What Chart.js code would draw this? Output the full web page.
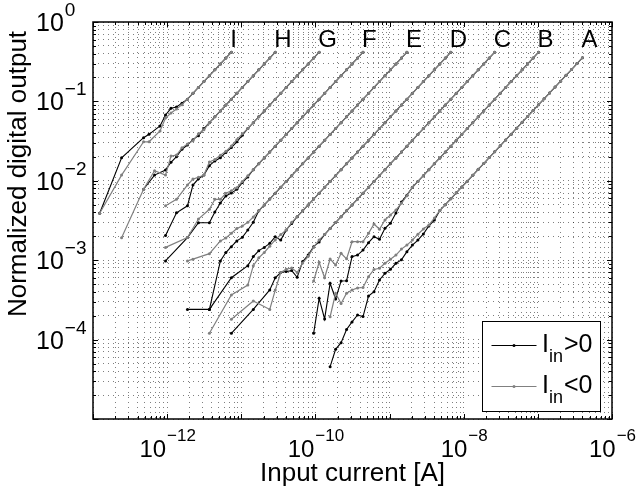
<!DOCTYPE html>
<html>
<head>
<meta charset="utf-8">
<script src="https://cdn.jsdelivr.net/npm/chart.js@4.4.0/dist/chart.umd.min.js"></script>
<style>
  html, body { margin: 0; padding: 0; background: #fff; }
  #plot { display: block; }
</style>
</head>
<body>
<canvas id="plot" width="638" height="491"></canvas>
<script>
// input current steps [A], shared by all ranges (2^(1/4) apart)
var current = [
  1.23e-13, 1.46e-13, 1.73e-13, 2.05e-13, 2.43e-13, 2.88e-13, 3.42e-13, 4.06e-13, 4.81e-13, 5.70e-13,
  6.76e-13, 8.02e-13, 9.51e-13, 1.127e-12, 1.337e-12, 1.585e-12, 1.879e-12, 2.228e-12, 2.642e-12, 3.133e-12,
  3.715e-12, 4.406e-12, 5.224e-12, 6.194e-12, 7.345e-12, 8.71e-12, 1.033e-11, 1.225e-11, 1.452e-11, 1.722e-11,
  2.042e-11, 2.421e-11, 2.871e-11, 3.404e-11, 4.036e-11, 4.786e-11, 5.675e-11, 6.73e-11, 7.98e-11, 9.462e-11,
  1.122e-10, 1.33e-10, 1.578e-10, 1.871e-10, 2.218e-10, 2.63e-10, 3.119e-10, 3.698e-10, 4.385e-10, 5.2e-10,
  6.166e-10, 7.311e-10, 8.67e-10, 1.028e-9, 1.219e-9, 1.445e-9, 1.714e-9, 2.032e-9, 2.41e-9, 2.858e-9,
  3.388e-9, 4.018e-9, 4.764e-9, 5.649e-9, 6.699e-9, 7.943e-9, 9.419e-9, 1.117e-8, 1.324e-8, 1.57e-8,
  1.862e-8, 2.208e-8, 2.618e-8, 3.105e-8, 3.681e-8, 4.365e-8, 5.176e-8, 6.138e-8, 7.278e-8, 8.63e-8,
  1.023e-7, 1.213e-7, 1.439e-7, 1.706e-7, 2.023e-7, 2.399e-7, 2.844e-7, 3.373e-7, 4.0e-7
];

var rangeNames = ['I', 'H', 'G', 'F', 'E', 'D', 'C', 'B', 'A'];
// index into current[] of the first entry of each range's arrays
var firstStep = [0, 4, 12, 12, 16, 20, 24, 39, 42];

// normalized output, I_in > 0 and I_in < 0 (null = no reading)
var posI = [0.0039, null, null, null, 0.0195, null, null, null, 0.0349, 0.0385, null, 0.049, 0.0675, 0.0818, 0.085, 0.095,
  0.1067, 0.1265, 0.15, 0.178, 0.211, 0.25, 0.296, 0.352, 0.417];
var negI = [0.0039, null, null, null, 0.0118, null, null, null, 0.031, 0.031, null, 0.0424, 0.0618, 0.0714, 0.08, 0.091,
  0.1067, 0.1265, 0.15, 0.178, 0.211, 0.25, 0.296, 0.352, 0.417];

var posH = [null, null, null, null, 0.00782, null, 0.0118, null, 0.0137, 0.0171, 0.0201, 0.025, 0.0282, 0.033, 0.037,
  0.0455, 0.054, 0.064, 0.0759, 0.09, 0.1067, 0.1265, 0.15, 0.178, 0.211, 0.25, 0.296, 0.352, 0.417];
var negH = [0.00192, null, null, null, 0.00782, null, 0.0134, null, 0.0118, 0.0205, 0.0211, 0.026, 0.029, 0.032, 0.039,
  0.044, 0.054, 0.064, 0.0759, 0.09, 0.1067, 0.1265, 0.15, 0.178, 0.211, 0.25, 0.296, 0.352, 0.417];

var posG = [0.00205, null, 0.00395, null, 0.00484, 0.00885, 0.0106, 0.0118, 0.0155, 0.0178, 0.0195, 0.0228, 0.0262, 0.031, 0.0375,
  0.0455, 0.054, 0.064, 0.0759, 0.09, 0.1067, 0.1265, 0.15, 0.178, 0.211, 0.25, 0.296, 0.352, 0.417];
var negG = [0.00486, null, 0.00585, null, 0.00885, 0.0105, 0.0111, 0.0118, 0.0173, 0.0185, 0.021, 0.0235, 0.0275, 0.033, 0.039,
  0.0455, 0.054, 0.064, 0.0759, 0.09, 0.1067, 0.1265, 0.15, 0.178, 0.211, 0.25, 0.296, 0.352, 0.417];

var posF = [0.00098, null, null, null, 0.00193, null, 0.00296, null, 0.00296, 0.00405, 0.00525, 0.00644, 0.007, 0.0078, 0.0095, 0.0112,
  0.0138, 0.0164, 0.0194, 0.023, 0.0273, 0.0324, 0.0384, 0.0455, 0.054, 0.064, 0.0759, 0.09, 0.1067, 0.1265, 0.15, 0.178,
  0.211, 0.25, 0.296, 0.352, 0.417];
var negF = [0.00145, null, null, null, 0.00193, null, 0.0033, null, 0.00438, 0.00585, 0.00585, 0.00696, 0.0075, 0.0082, 0.0098, 0.0116,
  0.0138, 0.0164, 0.0194, 0.023, 0.0273, 0.0324, 0.0384, 0.0455, 0.054, 0.064, 0.0759, 0.09, 0.1067, 0.1265, 0.15, 0.178,
  0.211, 0.25, 0.296, 0.352, 0.417];

var posE = [0.00024, null, null, null, 0.00024, null, 0.00098, 0.00125, 0.00148, 0.00175, 0.00194, 0.0024, 0.003,
  0.00419, 0.00497, 0.00589, 0.00698, 0.00828, 0.00982, 0.0116, 0.0138, 0.0164, 0.0194, 0.023, 0.0273, 0.0324, 0.0384,
  0.0455, 0.054, 0.064, 0.0759, 0.09, 0.1067, 0.1265, 0.15, 0.178, 0.211, 0.25, 0.296, 0.352, 0.417];
var negE = [0.00098, 0.00103, null, null, 0.00121, null, 0.00175, 0.0019, 0.00218, 0.0025, 0.0027, 0.003, 0.0035,
  0.00419, 0.00497, 0.00589, 0.00698, 0.00828, 0.00982, 0.0116, 0.0138, 0.0164, 0.0194, 0.023, 0.0273, 0.0324, 0.0384,
  0.0455, 0.054, 0.064, 0.0759, 0.09, 0.1067, 0.1265, 0.15, 0.178, 0.211, 0.25, 0.296, 0.352, 0.417];

var posD = [0.00024, null, null, null, 0.000602, null, null, 0.000853, 0.00111, 0.00132, 0.00145, 0.00163, 0.00198, 0.00179, 0.0024, 0.0029,
  0.00353, 0.00419, 0.00497, 0.00589, 0.00698, 0.00828, 0.00982, 0.0116, 0.0138, 0.0164, 0.0194, 0.023, 0.0273, 0.0324, 0.0384,
  0.0455, 0.054, 0.064, 0.0759, 0.09, 0.1067, 0.1265, 0.15, 0.178, 0.211, 0.25, 0.296, 0.352, 0.417];
var negD = [0.00012, null, null, null, 0.000365, null, null, 0.000487, 0.000853, 0.00107, 0.00125, 0.0015, 0.0018, 0.0021, 0.0024, 0.003,
  0.00353, 0.00419, 0.00497, 0.00589, 0.00698, 0.00828, 0.00982, 0.0116, 0.0138, 0.0164, 0.0194, 0.023, 0.0273, 0.0324, 0.0384,
  0.0455, 0.054, 0.064, 0.0759, 0.09, 0.1067, 0.1265, 0.15, 0.178, 0.211, 0.25, 0.296, 0.352, 0.417];

var posC = [0.00012, null, null, null, 0.00024, null, null, 0.000422, 0.0006, 0.0007, 0.00072, 0.00074, 0.00061, 0.00096, 0.00116,
  0.00148, 0.0017, 0.0021, 0.00251, 0.00298, 0.00353, 0.00419, 0.00497, 0.00589, 0.00698, 0.00828, 0.00982, 0.0116, 0.0138,
  0.0164, 0.0194, 0.023, 0.0273, 0.0324, 0.0384, 0.0455, 0.054, 0.064, 0.0759, 0.09, 0.1067, 0.1265, 0.15, 0.178, 0.211,
  0.25, 0.296, 0.352, 0.417];
var negC = [0.00018, null, null, null, 0.000306, null, null, 0.00024, 0.00042, 0.0007, 0.00077, 0.0008, 0.0007, 0.00092, 0.00112,
  0.00145, 0.0018, 0.0021, 0.00251, 0.00298, 0.00353, 0.00419, 0.00497, 0.00589, 0.00698, 0.00828, 0.00982, 0.0116, 0.0138,
  0.0164, 0.0194, 0.023, 0.0273, 0.0324, 0.0384, 0.0455, 0.054, 0.064, 0.0759, 0.09, 0.1067, 0.1265, 0.15, 0.178, 0.211,
  0.25, 0.296, 0.352, 0.417];

var posB = [0.00012, 0.000331, 0.000182, 0.000512, 0.000325, 0.000547, 0.000552, 0.00111, 0.00116, 0.00134, 0.00166, 0.00198,
  0.00183, 0.00252, 0.00292, 0.00393, 0.0054, 0.0066, 0.00828, 0.00982, 0.0116, 0.0138, 0.0164, 0.0194, 0.023, 0.0273,
  0.0324, 0.0384, 0.0455, 0.054, 0.064, 0.0759, 0.09, 0.1067, 0.1265, 0.15, 0.178, 0.211, 0.25, 0.296, 0.352, 0.417];
var negB = [0.000547, 0.000941, 0.000602, 0.001035, 0.00087, 0.00122, 0.00104, 0.00171, 0.00171, 0.00171, 0.00218, 0.00286,
  0.00245, 0.00321, 0.00371, 0.0043, 0.0052, 0.0065, 0.00828, 0.00982, 0.0116, 0.0138, 0.0164, 0.0194, 0.023, 0.0273,
  0.0324, 0.0384, 0.0455, 0.054, 0.064, 0.0759, 0.09, 0.1067, 0.1265, 0.15, 0.178, 0.211, 0.25, 0.296, 0.352, 0.417];

var posA = [0.0000456, 0.0000755, 0.0000914, 0.000134, 0.000167, 0.000204, 0.000195, 0.000354, 0.000401, 0.000564, 0.000684,
  0.000768, 0.000914, 0.00101, 0.00128, 0.00155, 0.00179, 0.00214, 0.0027, 0.0032, 0.00423, 0.00501, 0.00594, 0.00705,
  0.00836, 0.00987, 0.01174, 0.01396, 0.0165, 0.0196, 0.0232, 0.0276, 0.0327, 0.0387, 0.046, 0.0545, 0.0646, 0.0766,
  0.0908, 0.1077, 0.1277, 0.1515, 0.1796, 0.2128, 0.2519, 0.2996, 0.355];
var negA = [0.000194, 0.000383, 0.000285, 0.000383, 0.000422, 0.000447, 0.000453, 0.00062, 0.000764, 0.000791, 0.000914,
  0.00103, 0.00116, 0.00138, 0.00155, 0.00179, 0.00212, 0.00247, 0.00277, 0.0034, 0.00423, 0.00501, 0.00594, 0.00705,
  0.00836, 0.00987, 0.01174, 0.01396, 0.0165, 0.0196, 0.0232, 0.0276, 0.0327, 0.0387, 0.046, 0.0545, 0.0646, 0.0766,
  0.0908, 0.1077, 0.1277, 0.1515, 0.1796, 0.2128, 0.2519, 0.2996, 0.355];

var posSeries = [posI, posH, posG, posF, posE, posD, posC, posB, posA];
var negSeries = [negI, negH, negG, negF, negE, negD, negC, negB, negA];

var xDecades = [-13, -6];          // axis limits, powers of ten
var yDecades = [-5, 0];
var xLabelExps = [-12, -10, -8, -6];
var yLabelExps = [0, -1, -2, -3, -4];

var FONT = '"Liberation Sans", Arial, Helvetica, sans-serif';
var GRAY = '#808080';

function toPoints(first, vals) {
  var pts = [];
  vals.forEach(function(v, i) {
    if (v !== null) pts.push({ x: current[first + i], y: v });
  });
  return pts;
}

// 1..9 x 10^n ticks so every decade gets its minor grid lines
function logTicks(lo, hi) {
  var t = [];
  for (var e = lo; e < hi; e++) {
    for (var m = 1; m < 10; m++) t.push({ value: m * Math.pow(10, e) });
  }
  t.push({ value: Math.pow(10, hi) });
  return t;
}

var datasets = [];
rangeNames.forEach(function(name, i) {
  datasets.push({
    label: name + ' Iin>0',
    data: toPoints(firstStep[i], posSeries[i]),
    borderColor: '#000', backgroundColor: '#000',
    borderWidth: 1.1, pointRadius: 1.5, pointBorderWidth: 0,
    order: 1
  });
  datasets.push({
    label: name + ' Iin<0',
    data: toPoints(firstStep[i], negSeries[i]),
    borderColor: GRAY, backgroundColor: GRAY,
    borderWidth: 1.2, pointRadius: 1.5, pointBorderWidth: 0,
    order: 0
  });
});

// "10" with a raised exponent; sizes = [base px, exponent px, rise]
function powerLabel(ctx, left, y, exp, sizes, centerAt) {
  var base = '10', sup = String(exp).replace('-', '\u2212');
  ctx.font = sizes[0] + 'px ' + FONT;
  var wb = ctx.measureText(base).width;
  ctx.font = sizes[1] + 'px ' + FONT;
  var ws = ctx.measureText(sup).width;
  if (centerAt !== undefined) left = centerAt - (wb + ws) / 2;
  ctx.textAlign = 'left';
  ctx.textBaseline = 'alphabetic';
  ctx.font = sizes[0] + 'px ' + FONT;
  ctx.fillText(base, left, y);
  ctx.font = sizes[1] + 'px ' + FONT;
  ctx.fillText(sup, left + wb + 1, y - sizes[2]);
}

var axesDecor = {
  id: 'axesDecor',
  afterDatasetsDraw: function(chart) {
    var ctx = chart.ctx, a = chart.chartArea;
    var xs = chart.scales.x, ys = chart.scales.y;
    ctx.save();
    ctx.fillStyle = '#000';
    ctx.strokeStyle = '#000';

    // inward tick marks on all four sides
    ctx.lineWidth = 1;
    ctx.beginPath();
    xs.ticks.forEach(function(t) {
      var e = Math.log10(t.value), major = Math.abs(e - Math.round(e)) < 1e-9;
      var len = major ? 5 : 3;
      var px = Math.round(xs.getPixelForValue(t.value)) + 0.5;
      ctx.moveTo(px, a.bottom); ctx.lineTo(px, a.bottom - len);
      ctx.moveTo(px, a.top); ctx.lineTo(px, a.top + len);
    });
    ys.ticks.forEach(function(t) {
      var e = Math.log10(t.value), major = Math.abs(e - Math.round(e)) < 1e-9;
      var len = major ? 5 : 3;
      var py = Math.round(ys.getPixelForValue(t.value)) + 0.5;
      ctx.moveTo(a.left, py); ctx.lineTo(a.left + len, py);
      ctx.moveTo(a.right, py); ctx.lineTo(a.right - len, py);
    });
    ctx.stroke();

    // axes box
    ctx.lineWidth = 1.5;
    ctx.strokeRect(a.left, a.top, a.right - a.left, a.bottom - a.top);

    // decade labels
    xLabelExps.forEach(function(e) {
      powerLabel(ctx, 0, 457, e, [24, 17, 16], xs.getPixelForValue(Math.pow(10, e)));
    });
    yLabelExps.forEach(function(e) {
      powerLabel(ctx, 36, ys.getPixelForValue(Math.pow(10, e)) + 9, e, [25, 19, 15]);
    });

    // axis titles
    ctx.font = '26px ' + FONT;
    ctx.textAlign = 'center';
    ctx.fillText('Input current [A]', (a.left + a.right) / 2, 481);
    ctx.save();
    ctx.translate(26, 174);
    ctx.rotate(-Math.PI / 2);
    ctx.fillText('Normalized digital output', 0, 0);
    ctx.restore();

    // range letters just past the end of each curve
    ctx.font = '24px ' + FONT;
    ctx.textAlign = 'left';
    rangeNames.forEach(function(name, i) {
      var last = firstStep[i] + posSeries[i].length - 1;
      ctx.fillText(name, xs.getPixelForValue(current[last]) - 1, 47);
    });

    // legend
    var lx = 482.5, ly = 321.5, lw = 118, lh = 90;
    ctx.fillStyle = '#fff';
    ctx.fillRect(lx, ly, lw, lh);
    ctx.lineWidth = 1;
    ctx.strokeStyle = '#000';
    ctx.strokeRect(lx, ly, lw, lh);
    [['>0', '#000', 345.5], ['<0', GRAY, 386.5]].forEach(function(row) {
      ctx.strokeStyle = row[1];
      ctx.fillStyle = row[1];
      ctx.beginPath();
      ctx.moveTo(491.5, row[2]); ctx.lineTo(536.5, row[2]);
      ctx.stroke();
      ctx.beginPath();
      ctx.arc(514, row[2], 1.5, 0, Math.PI * 2);
      ctx.fill();
      ctx.fillStyle = '#000';
      ctx.font = '25px ' + FONT;
      ctx.fillText('I', 542, row[2] + 6);
      var wI = ctx.measureText('I').width;
      ctx.font = '18px ' + FONT;
      ctx.fillText('in', 542 + wI, row[2] + 16);
      var wIn = ctx.measureText('in').width;
      ctx.font = '25px ' + FONT;
      ctx.fillText(row[0], 542 + wI + wIn + 1, row[2] + 6);
    });
    ctx.restore();
  }
};

function axis(decades) {
  return {
    type: 'logarithmic',
    min: Math.pow(10, decades[0]),
    max: Math.pow(10, decades[1]),
    afterBuildTicks: function(scale) { scale.ticks = logTicks(decades[0], decades[1]); },
    ticks: { display: false },
    grid: { color: 'rgba(0,0,0,0.5)', lineWidth: 1, drawTicks: false },
    border: { display: false, dash: [1, 4] }
  };
}

new Chart(document.getElementById('plot'), {
  type: 'line',
  data: { datasets: datasets },
  options: {
    responsive: false,
    devicePixelRatio: 1,
    animation: false,
    layout: { padding: { left: 93, right: 26, top: 22, bottom: 72 } },
    plugins: { legend: { display: false }, tooltip: { enabled: false } },
    scales: { x: axis(xDecades), y: axis(yDecades) }
  },
  plugins: [axesDecor]
});
</script>
</body>
</html>
